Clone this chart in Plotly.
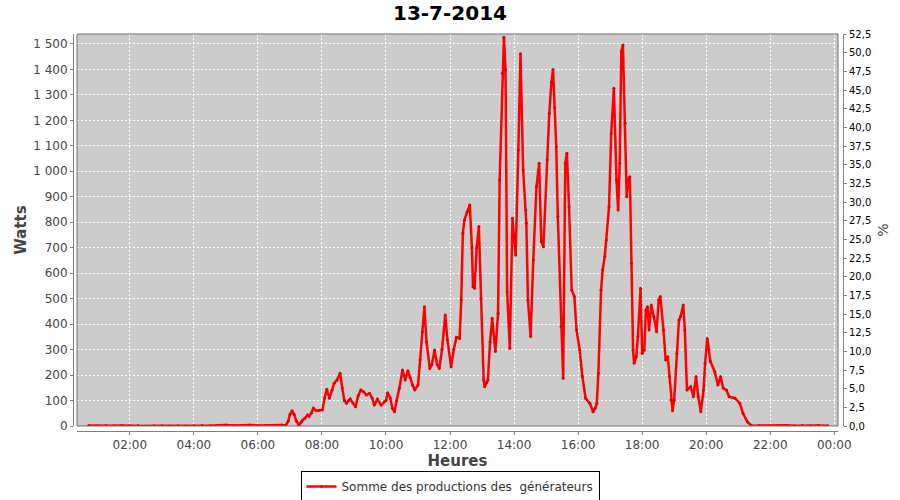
import plotly.graph_objects as go

day = "2014-07-13 "
times = ["00:43","01:00","01:15","01:30","01:45","02:00","02:15","02:30","02:45","03:00","03:15","03:30","03:45",
         "04:00","04:15","04:30","04:45","05:00","05:15","05:30","05:45","06:00","06:15","06:30","06:45","06:52",
         "06:57","07:00","07:04","07:08","07:12","07:17","07:21","07:24","07:28","07:33","07:36","07:40","07:44",
         "07:49","07:55","08:01","08:05","08:09","08:14","08:19","08:23","08:28","08:34","08:38","08:42","08:46",
         "08:50","08:53","08:58","09:03","09:08","09:13","09:18","09:23","09:29","09:34","09:38","09:44","09:51",
         "09:57","10:00","10:03","10:08","10:12","10:16","10:20","10:25","10:31","10:36","10:41","10:45","10:50",
         "10:54","11:00","11:04","11:08","11:12","11:16","11:22","11:26","11:31","11:36","11:40","11:45","11:51",
         "11:55","12:02","12:07","12:12","12:18","12:21","12:24","12:27","12:32","12:37","12:41","12:43","12:46",
         "12:50","12:54","12:58","13:03","13:05","13:08","13:11","13:15","13:19","13:25","13:30","13:33","13:38",
         "13:41","13:44","13:47","13:52","13:57","14:00","14:03","14:08","14:12","14:17","14:22","14:23","14:26",
         "14:31","14:36","14:42","14:47","14:51","14:55","15:02","15:06","15:10","15:13","15:16","15:19","15:22",
         "15:28","15:32","15:36","15:39","15:43","15:48","15:53","15:57","16:03","16:08","16:14","16:22","16:28",
         "16:32","16:35","16:38","16:43","16:46","16:50","16:53","16:58","17:02","17:07","17:12","17:15","17:18",
         "17:21","17:24","17:28","17:31","17:34","17:37","17:40","17:43","17:45","17:49","17:52","17:57","18:00",
         "18:04","18:07","18:10","18:13","18:17","18:22","18:27","18:31","18:34","18:40","18:44","18:48","18:51",
         "18:54","18:57","19:00","19:05","19:09","19:12","19:17","19:20","19:24","19:31","19:36","19:41","19:45",
         "19:50","19:55","19:58","20:02","20:05","20:08","20:16","20:22","20:27","20:32","20:38","20:43","20:54",
         "21:03","21:09","21:17","21:25","21:40","22:00","22:15","22:30","22:45","23:00","23:15","23:30","23:48"]
watts = [2,1,2,1,2,1,2,0,1,1,0,1,0,
         1,2,1,3,4,2,3,4,2,3,2,4,2,
         20,45,60,45,20,2,15,24,30,43,37,50,70,
         60,62,63,110,144,109,140,168,180,207,150,100,89,
         100,106,90,76,120,141,135,122,128,110,82,105,82,
         95,100,131,110,70,56,100,148,220,181,217,190,160,
         141,161,260,370,468,330,226,240,298,240,226,300,436,
         340,233,300,348,344,495,757,809,840,868,700,547,541,
         700,783,500,181,154,170,181,330,423,292,443,966,1385,
         1526,1398,527,305,816,743,671,1084,1461,1005,848,796,495,
         351,652,940,1032,724,704,1045,1228,1350,1400,1250,1097,822,
         390,187,1032,1071,861,534,508,377,298,194,109,89,56,
         70,89,207,534,613,665,730,861,1149,1326,966,848,1032,
         1470,1496,1189,900,966,979,639,298,246,272,351,541,285,
         298,455,468,377,475,429,370,495,508,377,259,272,194,
         102,60,102,285,416,430,475,377,141,154,115,194,115,
         56,141,246,344,300,253,213,161,194,148,141,115,109,
         89,50,17,1,2,1,2,3,1,2,1,2,1]

x_vals = [day + t for t in times]
series_name = "Somme des productions des\u00a0 générateurs"

# paper area: x 10..890, y 10..498
W_P, H_P, L, B = 880.0, 488.0, 10.0, 498.0
def px(x):
    return (x - L) / W_P
def py(y):
    return (B - y) / H_P

fig = go.Figure()
fig.add_trace(go.Scatter(
    x=x_vals, y=watts, mode="lines+markers", name=series_name,
    line=dict(color="#FF0000", width=2.5),
    marker=dict(color="#E00000", size=3),
))
fig.add_trace(go.Scatter(x=[x_vals[0]], y=[0], yaxis="y2", mode="lines",
                         line=dict(width=0), showlegend=False, hoverinfo="skip"))

tick_font = dict(family="DejaVu Sans", size=12, color="#444444")
title_font = dict(family="DejaVu Sans", size=15, color="#444444")
grid_dash = "2px,2px"

fig.update_layout(
    width=900, height=500,
    margin=dict(l=10, r=10, t=10, b=2, autoexpand=False),
    paper_bgcolor="white", plot_bgcolor="#CCCCCC",
    separators=", ",
    title=dict(text="<b>13-7-2014</b>", x=0.5, xanchor="center", y=0.975, yanchor="middle",
               font=dict(family="DejaVu Sans", size=20, color="black")),
    showlegend=True,
    legend=dict(orientation="h", x=0.5, xanchor="center", y=py(471), yanchor="top",
                bordercolor="black", borderwidth=1, bgcolor="white",
                font=dict(family="DejaVu Sans", size=12, color="#333333"),
                itemwidth=30, tracegroupgap=0),
    xaxis=dict(
        type="date", domain=[px(77), px(838)], anchor="free", position=py(431),
        range=[day + "00:21", "2014-07-14 00:07"],
        tick0=day + "00:00", dtick=7200000, tickformat="%H:%M",
        tickfont=tick_font, ticks="outside", ticklen=3, tickcolor="#808080",
        showline=True, linecolor="#808080", linewidth=1,
        showgrid=True, gridcolor="white", griddash=grid_dash, gridwidth=1,
        zeroline=False, automargin=False,
        title=dict(text="<b>Heures</b>", font=title_font, standoff=4),
    ),
    yaxis=dict(
        domain=[py(426), py(34)], anchor="free", position=px(73),
        range=[0, 1539], dtick=100, separatethousands=True,
        tickfont=tick_font, ticks="outside", ticklen=3, tickcolor="#808080",
        showline=True, linecolor="#808080", linewidth=1,
        showgrid=True, gridcolor="white", griddash=grid_dash, gridwidth=1,
        zeroline=False, automargin=False,
        title=dict(text="<b>Watts</b>", font=title_font, standoff=1),
    ),
    yaxis2=dict(
        domain=[py(426), py(34)], overlaying="y", side="right", anchor="free", position=px(843),
        range=[0, 52.5], dtick=2.5, tickformat=".1f",
        tickfont=dict(family="DejaVu Sans", size=10, color="black"),
        ticks="outside", ticklen=3, tickcolor="#808080",
        showline=True, linecolor="#808080", linewidth=1,
        showgrid=False, zeroline=False, automargin=False,
        title=dict(text="%", font=dict(family="DejaVu Sans", size=14, color="#444444"), standoff=7),
    ),
    shapes=[dict(type="rect", xref="x domain", yref="y domain", x0=0, x1=1, y0=0, y1=1,
                 line=dict(color="#707070", width=1), fillcolor="rgba(0,0,0,0)", layer="above")],
)

fig.write_html("out.html", config={"displayModeBar": False},
               post_script="document.body.style.margin='0px';")
